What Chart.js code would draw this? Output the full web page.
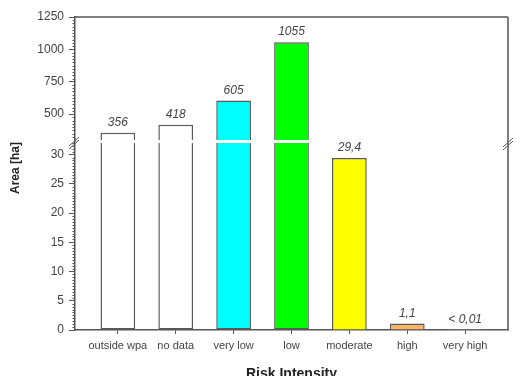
<!DOCTYPE html>
<html>
<head>
<meta charset="utf-8">
<script src="https://cdn.jsdelivr.net/npm/chart.js@4/dist/chart.umd.min.js"></script>
<style>
  html, body { margin: 0; padding: 0; background: #fff; }
  #wrap { width: 521px; height: 376px; }
</style>
</head>
<body>
<div id="wrap"><canvas id="riskChart" width="521" height="376"></canvas></div>
<script>
// data
const categories = ['outside wpa', 'no data', 'very low', 'low', 'moderate', 'high', 'very high'];
const areaValues = [356, 418, 605, 1055, 29.4, 1.1, 0.01];
const valueLabels = ['356', '418', '605', '1055', '29,4', '1,1', '< 0,01'];
const barColors = ['#ffffff', '#ffffff', '#00ffff', '#00ff00', '#ffff00', '#ffb366', '#ffffff'];
const upperTicks = [500, 750, 1000, 1250];
const lowerTicks = [0, 5, 10, 15, 20, 25, 30];

// broken axis: lower part 0..32.5, upper part 300..1250
const lowerMax = 32.5;
const lowerCut = 32;
const upperMin = 300;
const upperMax = 1250;

const axisColor = '#555';
const textColor = '#444';

const lowerData = areaValues.map((v, i) => ({ x: i, y: [0, Math.min(v, lowerCut)], c: i }));
const upperData = areaValues
    .map((v, i) => ({ x: i, y: [upperMin, v], c: i }))
    .filter(d => areaValues[d.c] > upperMin);

function drawLine(ctx, x1, y1, x2, y2) {
    ctx.beginPath();
    ctx.moveTo(x1, y1);
    ctx.lineTo(x2, y2);
    ctx.stroke();
}

const extras = {
    id: 'extras',
    afterDatasetsDraw(chart) {
        const ctx = chart.ctx;
        const xs = chart.scales.x, yl = chart.scales.yLow, yh = chart.scales.yHigh;
        ctx.save();
        ctx.font = 'italic 12px "Liberation Sans", Arial, sans-serif';
        ctx.fillStyle = textColor;
        ctx.textAlign = 'center';
        ctx.textBaseline = 'alphabetic';
        areaValues.forEach((v, i) => {
            const top = v > lowerCut ? yh.getPixelForValue(v) : yl.getPixelForValue(v);
            ctx.fillText(valueLabels[i], xs.getPixelForValue(i), top - 7);
        });
        ctx.restore();
    },
    afterDraw(chart) {
        const ctx = chart.ctx;
        const area = chart.chartArea;
        const yl = chart.scales.yLow, yh = chart.scales.yHigh;
        ctx.save();
        ctx.strokeStyle = axisColor;
        ctx.lineWidth = 1.5;
        // frame top + right
        drawLine(ctx, area.left, area.top, area.right, area.top);
        drawLine(ctx, area.right, area.top, area.right, area.bottom);
        // minor ticks
        ctx.lineWidth = 1;
        for (let v = upperMin + 25; v < upperMax; v += 25) {
            if (v % 250 === 0) continue;
            const y = Math.round(yh.getPixelForValue(v)) + 0.5;
            drawLine(ctx, area.left - 2.5, y, area.left, y);
        }
        for (let v = 0.5; v <= lowerCut; v += 0.5) {
            if (v % 5 === 0) continue;
            const y = Math.round(yl.getPixelForValue(v)) + 0.5;
            drawLine(ctx, area.left - 2.5, y, area.left, y);
        }
        // break marks
        const by = yl.top;
        ctx.lineWidth = 1;
        drawLine(ctx, area.left - 6, by + 6, area.left + 4, by - 3);
        drawLine(ctx, area.left - 6, by + 9, area.left + 4, by);
        drawLine(ctx, area.right - 5, by + 7, area.right + 5, by - 2);
        drawLine(ctx, area.right - 5, by + 10, area.right + 5, by + 1);
        // axis titles
        ctx.fillStyle = '#222';
        ctx.font = 'bold 14px "Liberation Sans", Arial, sans-serif';
        ctx.textAlign = 'center';
        ctx.textBaseline = 'top';
        ctx.fillText('Risk Intensity', (area.left + area.right) / 2, 367);
        ctx.translate(16, 168);
        ctx.rotate(-Math.PI / 2);
        ctx.font = 'bold 12px "Liberation Sans", Arial, sans-serif';
        ctx.textBaseline = 'middle';
        ctx.fillText('Area [ha]', 0, 0);
        ctx.restore();
    }
};

const yCommon = {
    position: 'left',
    stack: 'area',
    grid: { display: true, drawOnChartArea: false, drawTicks: true, tickLength: 6, color: axisColor, lineWidth: 1 },
    border: { display: true, color: axisColor, width: 1.5 },
    ticks: {
        color: textColor,
        padding: 5,
        font: { family: '"Liberation Sans", Arial, sans-serif', size: 12 },
        callback: v => String(v)
    },
    afterFit: s => { s.width = 50; }
};

new Chart(document.getElementById('riskChart'), {
    type: 'bar',
    data: {
        datasets: [
            {
                data: lowerData,
                yAxisID: 'yLow',
                grouped: false,
                backgroundColor: lowerData.map(d => barColors[d.c]),
                borderColor: '#5a5a5a',
                borderWidth: 1.5,
                borderSkipped: c => areaValues[c.dataIndex] > lowerCut ? 'top' : 'bottom',
                barPercentage: 0.6,
                categoryPercentage: 1
            },
            {
                data: upperData,
                yAxisID: 'yHigh',
                grouped: false,
                backgroundColor: upperData.map(d => barColors[d.c]),
                borderColor: '#5a5a5a',
                borderWidth: 1.5,
                borderSkipped: 'bottom',
                barPercentage: 0.6,
                categoryPercentage: 1
            }
        ]
    },
    options: {
        responsive: false,
        animation: false,
        layout: { padding: { left: 25, right: 13, top: 17, bottom: 0 } },
        plugins: { legend: { display: false }, tooltip: { enabled: false } },
        scales: {
            x: {
                type: 'linear',
                offset: false,
                bounds: 'data',
                min: -0.74,
                max: 6.74,
                grid: { display: true, drawOnChartArea: false, drawTicks: true, tickLength: 4, color: axisColor, offset: false },
                border: { display: true, color: axisColor, width: 1.5 },
                afterBuildTicks: s => { s.ticks = categories.map((c, i) => ({ value: i })); },
                ticks: {
                    color: textColor,
                    padding: 5,
                    maxRotation: 0,
                    autoSkip: false,
                    font: { family: '"Liberation Sans", Arial, sans-serif', size: 11 },
                    callback: v => categories[v]
                },
                afterFit: s => { s.height = 46; }
            },
            yLow: Object.assign({}, yCommon, {
                min: 0,
                max: lowerMax,
                stackWeight: 190,
                afterBuildTicks: s => { s.ticks = lowerTicks.map(v => ({ value: v })); }
            }),
            yHigh: Object.assign({}, yCommon, {
                min: upperMin,
                max: upperMax,
                stackWeight: 123,
                afterBuildTicks: s => { s.ticks = upperTicks.map(v => ({ value: v })); }
            })
        }
    },
    plugins: [extras]
});
</script>
</body>
</html>
